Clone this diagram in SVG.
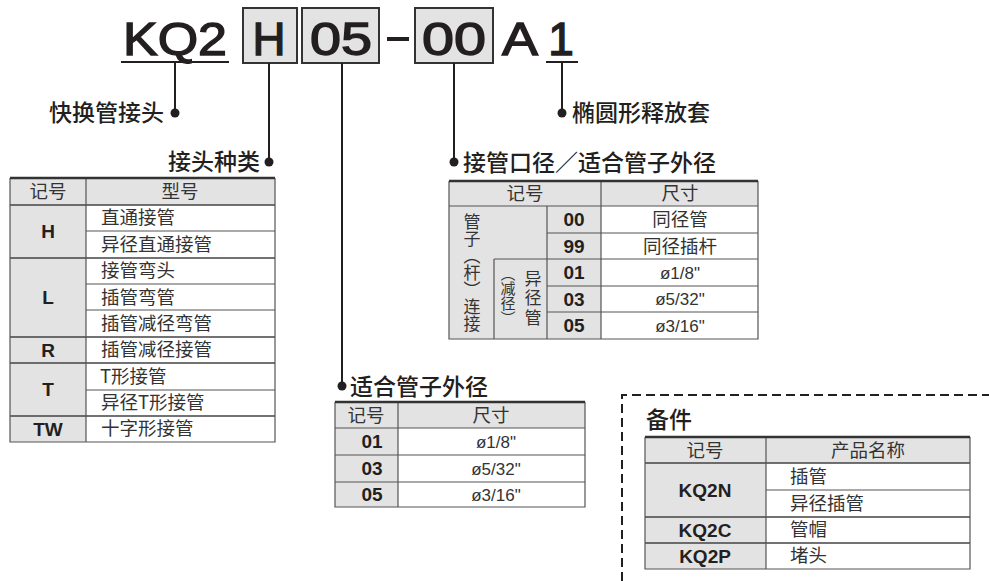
<svg xmlns="http://www.w3.org/2000/svg" width="989" height="581" viewBox="0 0 989 581">
<style>
text{font-family:"Liberation Sans","Noto Sans CJK SC",sans-serif;fill:#231f20}
.big{font-size:46px;stroke:#231f20;stroke-width:1.4}
.lbl{font-size:23px;font-family:"Noto Sans CJK SC",sans-serif;font-weight:500}
.th{font-size:18.5px;font-family:"Noto Sans CJK SC",sans-serif;fill:#333}
.td{font-size:18.5px;font-family:"Noto Sans CJK SC",sans-serif;fill:#333}
.vt{font-family:"Noto Sans CJK SC",sans-serif;fill:#333;writing-mode:vertical-rl}
.code{font-size:19px;font-weight:bold}
.num{font-size:17px;fill:#333}
.g{fill:#e3e3e3}
.w{fill:#fff}
.ln{stroke:#555;stroke-width:1.2;fill:none}
.gl{stroke:#444;stroke-width:1.6;fill:none}
.top{stroke:#333;stroke-width:2.5;fill:none}
.box{fill:#e3e3e3;stroke:#333;stroke-width:2}
.con{stroke:#231f20;stroke-width:2;fill:none}
.dot{fill:#231f20}
</style>

<g id="model-code">
<text class="big" x="175" y="55" text-anchor="middle" textLength="104" lengthAdjust="spacingAndGlyphs">KQ2</text>
<line class="con" x1="121" y1="62" x2="229" y2="62"/>
<rect class="box" x="243" y="8" width="54" height="55"/>
<text class="big" x="269" y="55" text-anchor="middle" textLength="33" lengthAdjust="spacingAndGlyphs">H</text>
<rect class="box" x="302" y="8" width="77" height="55"/>
<text class="big" x="341" y="55" text-anchor="middle" textLength="62" lengthAdjust="spacingAndGlyphs">05</text>
<line x1="387" y1="39" x2="409" y2="39" stroke="#231f20" stroke-width="4"/>
<rect class="box" x="415" y="8" width="78" height="55"/>
<text class="big" x="454" y="55" text-anchor="middle" textLength="64" lengthAdjust="spacingAndGlyphs">00</text>
<text class="big" x="520" y="55" text-anchor="middle" textLength="36" lengthAdjust="spacingAndGlyphs">A</text>
<text class="big" x="561" y="55" text-anchor="middle">1</text>
<line class="con" x1="546" y1="62" x2="578" y2="62"/>
</g>

<g id="connectors">
<line class="con" x1="175" y1="62" x2="175" y2="113"/>
<circle class="dot" cx="175" cy="113" r="4.5"/>
<line class="con" x1="269" y1="63" x2="269" y2="162"/>
<circle class="dot" cx="269" cy="162" r="4.5"/>
<line class="con" x1="342" y1="63" x2="342" y2="386"/>
<circle class="dot" cx="342" cy="386" r="4.5"/>
<line class="con" x1="454" y1="63" x2="454" y2="162"/>
<circle class="dot" cx="454" cy="162" r="4.5"/>
<line class="con" x1="562" y1="62" x2="562" y2="113"/>
<circle class="dot" cx="562" cy="113" r="4.5"/>
</g>

<g id="label-kq2">
<text class="lbl" x="164" y="121" text-anchor="end">快换管接头</text>
</g>
<g id="label-release">
<text class="lbl" x="572" y="121">椭圆形释放套</text>
</g>

<g id="table-type">
<text class="lbl" x="260" y="170" text-anchor="end">接头种类</text>
<rect class="g" x="10" y="178" width="265" height="27"/>
<rect class="g" x="10" y="205" width="76" height="237"/>
<rect class="w" x="86" y="205" width="189" height="237"/>
<path class="ln" d="M86 231H275M86 284H275M86 310H275M86 390H275"/>
<path class="gl" d="M10 205H275M10 258H275M10 337H275M10 363H275M10 416H275"/>
<path class="ln" d="M86 178V442M10 178V442H275V178"/>
<line class="top" x1="10" y1="178" x2="275" y2="178"/>
<text class="th" x="48" y="198" text-anchor="middle">记号</text>
<text class="th" x="180" y="198" text-anchor="middle">型号</text>
<text class="code" x="48" y="238" text-anchor="middle">H</text>
<text class="code" x="48" y="304" text-anchor="middle">L</text>
<text class="code" x="48" y="357" text-anchor="middle">R</text>
<text class="code" x="48" y="396" text-anchor="middle">T</text>
<text class="code" x="48" y="436" text-anchor="middle">TW</text>
<text class="td" x="101" y="224">直通接管</text>
<text class="td" x="101" y="251">异径直通接管</text>
<text class="td" x="101" y="277">接管弯头</text>
<text class="td" x="101" y="304">插管弯管</text>
<text class="td" x="101" y="330">插管减径弯管</text>
<text class="td" x="101" y="356">插管减径接管</text>
<text class="td" x="100" y="383">T形接管</text>
<text class="td" x="101" y="409">异径T形接管</text>
<text class="td" x="101" y="435">十字形接管</text>
</g>

<g id="table-port">
<text class="lbl" x="463" y="171">接管口径／适合管子外径</text>
<rect class="g" x="449" y="181" width="309" height="25"/>
<rect class="g" x="449" y="206" width="152" height="133"/>
<rect class="w" x="601" y="206" width="157" height="133"/>
<path class="ln" d="M547 233H758M494 259H758M547 286H758M547 312H758M494 259V339M547 206V339"/>
<path class="ln" d="M449 206H758M601 181V339M449 181V339H758V181"/>
<line class="top" x1="449" y1="181" x2="758" y2="181"/>
<text class="th" x="525" y="200" text-anchor="middle">记号</text>
<text class="th" x="680" y="200" text-anchor="middle">尺寸</text>
<text class="vt" x="472" y="213" style="font-size:17px">管子（杆）连接</text>
<text class="vt" x="508" y="266" style="font-size:15px">（减径）</text>
<text class="vt" x="533" y="270" style="font-size:17px;letter-spacing:2.5px">异径管</text>
<text class="code" x="574" y="226" text-anchor="middle">00</text>
<text class="code" x="574" y="253" text-anchor="middle">99</text>
<text class="code" x="574" y="279" text-anchor="middle">01</text>
<text class="code" x="574" y="306" text-anchor="middle">03</text>
<text class="code" x="574" y="332" text-anchor="middle">05</text>
<text class="td" x="680" y="226" text-anchor="middle">同径管</text>
<text class="td" x="680" y="253" text-anchor="middle">同径插杆</text>
<text class="num" x="680" y="279" text-anchor="middle">ø1/8"</text>
<text class="num" x="680" y="305" text-anchor="middle">ø5/32"</text>
<text class="num" x="680" y="332" text-anchor="middle">ø3/16"</text>
</g>

<g id="table-tube">
<text class="lbl" x="350" y="395">适合管子外径</text>
<rect class="g" x="335" y="402" width="250" height="26"/>
<rect class="g" x="335" y="428" width="63" height="79"/>
<rect class="w" x="398" y="428" width="187" height="79"/>
<path class="ln" d="M335 428H585M335 455H585M335 482H585M398 402V507M335 402V507H585V402"/>
<line class="top" x1="335" y1="402" x2="585" y2="402"/>
<text class="th" x="366" y="422" text-anchor="middle">记号</text>
<text class="th" x="491" y="422" text-anchor="middle">尺寸</text>
<text class="code" x="372" y="448" text-anchor="middle">01</text>
<text class="code" x="372" y="475" text-anchor="middle">03</text>
<text class="code" x="372" y="501" text-anchor="middle">05</text>
<text class="num" x="496" y="448" text-anchor="middle">ø1/8"</text>
<text class="num" x="496" y="475" text-anchor="middle">ø5/32"</text>
<text class="num" x="496" y="501" text-anchor="middle">ø3/16"</text>
</g>

<g id="table-parts">
<path d="M622 581V395H989" stroke="#231f20" stroke-width="2" fill="none" stroke-dasharray="9 5"/>
<text class="lbl" x="646" y="428">备件</text>
<rect class="g" x="645" y="437" width="325" height="26"/>
<rect class="g" x="645" y="463" width="121" height="106"/>
<rect class="w" x="766" y="463" width="204" height="106"/>
<path class="ln" d="M766 490H970"/>
<path class="gl" d="M645 463H970M645 517H970M645 543H970"/>
<path class="ln" d="M766 437V569M645 437V569H970V437"/>
<line class="top" x1="645" y1="437" x2="970" y2="437"/>
<text class="th" x="705" y="457" text-anchor="middle">记号</text>
<text class="th" x="868" y="457" text-anchor="middle">产品名称</text>
<text class="code" x="705" y="497" text-anchor="middle">KQ2N</text>
<text class="code" x="705" y="537" text-anchor="middle">KQ2C</text>
<text class="code" x="705" y="563" text-anchor="middle">KQ2P</text>
<text class="td" x="790" y="483">插管</text>
<text class="td" x="790" y="510">异径插管</text>
<text class="td" x="790" y="536">管帽</text>
<text class="td" x="790" y="562">堵头</text>
</g>
</svg>
